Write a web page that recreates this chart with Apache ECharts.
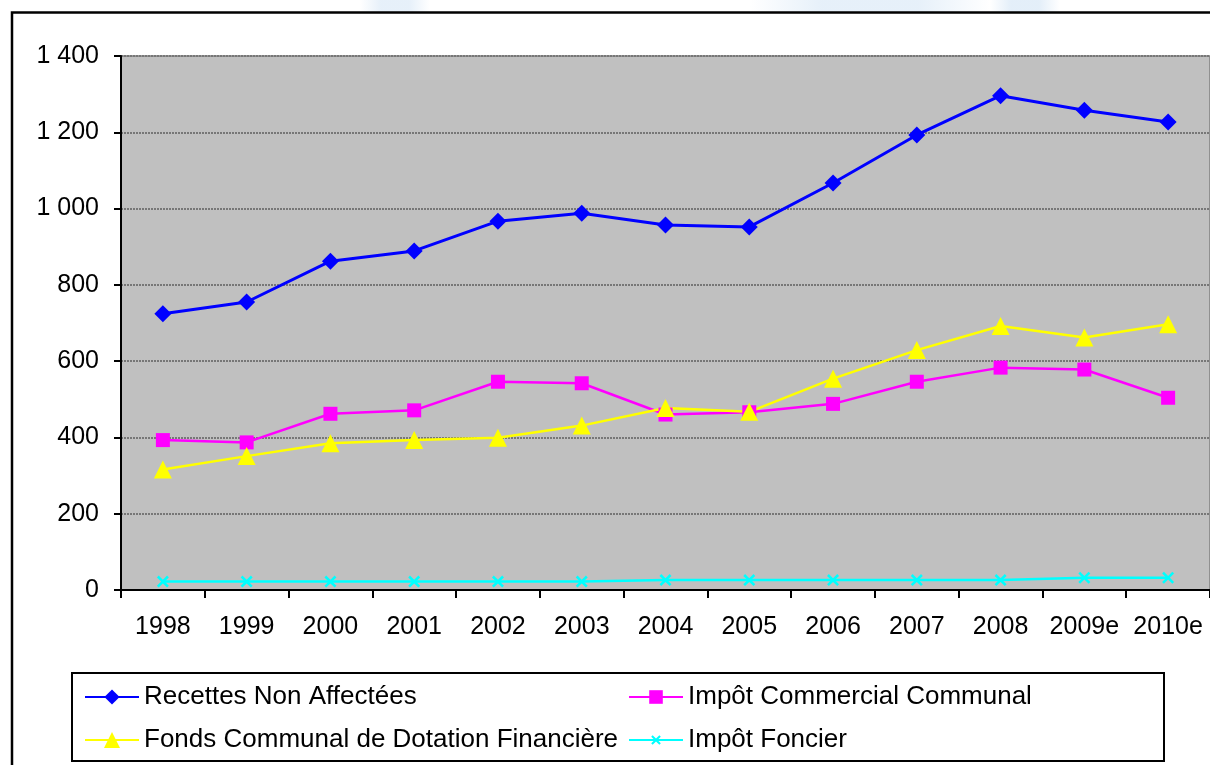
<!DOCTYPE html>
<html>
<head>
<meta charset="utf-8">
<title>Recettes communales 1998-2010e</title>
<script src="https://cdn.jsdelivr.net/npm/echarts@6/dist/echarts.min.js"></script>
<style>
  html, body { margin: 0; padding: 0; background: #fff; }
  #chart { width: 1210px; height: 765px; }
</style>
</head>
<body>
<div id="chart"></div>
<script>
// Categories (years, "e" = estimate)
const years = ['1998', '1999', '2000', '2001', '2002', '2003', '2004', '2005', '2006', '2007', '2008', '2009e', '2010e'];

// Series values
const recettesNonAffectees = [724, 755, 862, 889, 967, 988, 957, 952, 1067, 1193, 1296, 1258, 1227];
const impotCommercialCommunal = [393, 387, 462, 471, 546, 542, 460, 466, 488, 546, 583, 578, 504];
const fondsCommunalDotation = [316, 351, 385, 393, 399, 431, 477, 467, 554, 629, 692, 662, 697];
const impotFoncier = [22, 22, 22, 22, 22, 22, 26, 26, 26, 26, 26, 32, 32];

// Series names
const seriesNames = [
  'Recettes Non Affectées',
  'Impôt Commercial Communal',
  'Fonds Communal de Dotation Financière',
  'Impôt Foncier'
];

// Y axis range
const yMin = 0, yMax = 1400, yStep = 200;

const FONT = '"Liberation Sans", Arial, sans-serif';
const X_MARK = 'path://M0,1.5L1.5,0L5,3.5L8.5,0L10,1.5L6.5,5L10,8.5L8.5,10L5,6.5L1.5,10L0,8.5L3.5,5Z';

function thousands(v) {
  return String(v).replace(/\B(?=(\d{3})+(?!\d))/g, ' ');
}

function legendAt(name, left, centerY, iconH) {
  return {
    data: [name],
    left: left,
    top: centerY - 13,
    padding: 0,
    itemWidth: 54,
    itemHeight: iconH,
    itemGap: 5,
    selectedMode: false,
    textStyle: { fontFamily: FONT, fontSize: 26, color: '#000' }
  };
}

// soft horizontal glow for the background art in the top strip
function glow(x0, w, alpha) {
  return {
    type: 'rect', silent: true, z: -10,
    shape: { x: x0, y: 0, width: w, height: 12 },
    style: {
      fill: new echarts.graphic.LinearGradient(0, 0, 1, 0, [
        { offset: 0, color: 'rgba(200,222,243,0)' },
        { offset: 0.3, color: 'rgba(200,222,243,' + alpha + ')' },
        { offset: 0.7, color: 'rgba(200,222,243,' + alpha + ')' },
        { offset: 1, color: 'rgba(200,222,243,0)' }
      ])
    }
  };
}

const chart = echarts.init(document.getElementById('chart'), null, { renderer: 'canvas' });

chart.setOption({
  animation: false,
  backgroundColor: '#fff',
  textStyle: { fontFamily: FONT },
  graphic: [
    glow(360, 70, 0.45),
    glow(750, 240, 0.45),
    glow(990, 70, 0.5),
    // outer chart frame (extends past the right and bottom edges)
    { type: 'rect', silent: true, z: 1,
      shape: { x: 12, y: 12.5, width: 1400, height: 900 },
      style: { fill: 'none', stroke: '#000', lineWidth: 2.5 } },
    // legend box
    { type: 'rect', silent: true, z: 1,
      shape: { x: 72, y: 673, width: 1092, height: 88 },
      style: { fill: '#fff', stroke: '#000', lineWidth: 2 } }
  ],
  legend: [
    legendAt(seriesNames[0], 84, 697, 19),
    legendAt(seriesNames[2], 84, 740, 20),
    legendAt(seriesNames[1], 628, 697, 17),
    legendAt(seriesNames[3], 628, 740, 12)
  ],
  grid: {
    left: 121, top: 56, right: -1, bottom: 175,
    show: true,
    backgroundColor: '#C0C0C0',
    borderColor: '#808080',
    borderWidth: 1.5
  },
  xAxis: {
    type: 'category',
    data: years,
    boundaryGap: true,
    axisLine: { lineStyle: { color: '#000', width: 2 } },
    axisTick: { show: true, length: 8, lineStyle: { color: '#000', width: 2 } },
    axisLabel: { color: '#000', fontFamily: FONT, fontSize: 25, margin: 25, interval: 0 },
    splitLine: { show: false }
  },
  yAxis: {
    type: 'value',
    min: yMin, max: yMax, interval: yStep,
    axisLine: { show: true, lineStyle: { color: '#000', width: 2 } },
    axisTick: { show: true, length: 7, lineStyle: { color: '#000', width: 2 } },
    axisLabel: { color: '#000', fontFamily: FONT, fontSize: 25, margin: 22, formatter: thousands },
    splitLine: { show: true, lineStyle: { color: '#777777', width: 2, type: [2, 1] } }
  },
  series: [
    {
      name: seriesNames[0], type: 'line', data: recettesNonAffectees,
      symbol: 'diamond', symbolSize: 17,
      lineStyle: { color: '#0000FF', width: 3 },
      itemStyle: { color: '#0000FF' }
    },
    {
      name: seriesNames[1], type: 'line', data: impotCommercialCommunal,
      symbol: 'rect', symbolSize: 14,
      lineStyle: { color: '#FF00FF', width: 2.5 },
      itemStyle: { color: '#FF00FF' }
    },
    {
      name: seriesNames[2], type: 'line', data: fondsCommunalDotation,
      symbol: 'triangle', symbolSize: 18,
      lineStyle: { color: '#FFFF00', width: 2.5 },
      itemStyle: { color: '#FFFF00' }
    },
    {
      name: seriesNames[3], type: 'line', data: impotFoncier,
      symbol: X_MARK, symbolSize: 12,
      lineStyle: { color: '#00FFFF', width: 2.5 },
      itemStyle: { color: '#00FFFF' }
    }
  ]
});
</script>
</body>
</html>
